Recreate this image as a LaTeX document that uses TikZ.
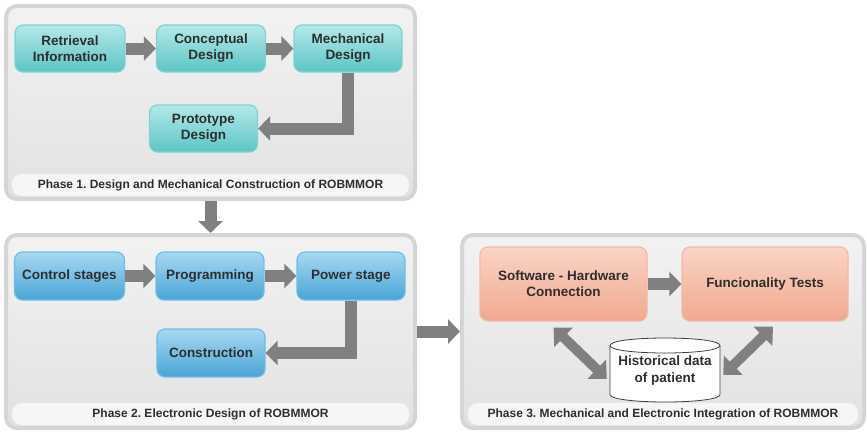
\documentclass[tikz,border=0pt]{standalone}
\usepackage{fontspec}
\setmainfont{Liberation Sans}
\usetikzlibrary{arrows.meta}
\frenchspacing

\definecolor{panelrim}{HTML}{D5D5D5}
\definecolor{panelTop}{HTML}{F2F2F2}
\definecolor{panelBot}{HTML}{E2E2E2}
\definecolor{txt}{HTML}{2E2E2E}
\definecolor{arrowgray}{HTML}{808080}
\definecolor{tealRim}{HTML}{7FD3D3}
\definecolor{tealTop}{HTML}{B4E8E8}
\definecolor{tealBot}{HTML}{5CC5C5}
\definecolor{blueRim}{HTML}{6FBDE6}
\definecolor{blueTop}{HTML}{A8D8F1}
\definecolor{blueBot}{HTML}{48A5D6}
\definecolor{salmonRim}{HTML}{F4B8A2}
\definecolor{salmonTop}{HTML}{FAD4C6}
\definecolor{salmonBot}{HTML}{F1A88E}

\begin{document}
\begin{tikzpicture}[x=1pt,y=-1pt,
  panel/.style={draw=panelrim, line width=4pt, rounded corners=11pt,
    top color=panelTop, bottom color=panelBot, inner sep=0pt},
  band/.style={fill=white, fill opacity=0.7, rounded corners=10pt},
  caption/.style={font=\bfseries\fontsize{12}{14}\selectfont, text=txt},
  box/.style={rounded corners=8pt, line width=1.2pt, align=center,
    font=\bfseries\fontsize{13.5}{16}\selectfont, text=txt, inner sep=0pt},
  tealbox/.style={box, draw=tealRim, top color=tealTop, bottom color=tealBot},
  bluebox/.style={box, draw=blueRim, top color=blueTop, bottom color=blueBot},
  salmonbox/.style={box, draw=salmonRim, top color=salmonTop, bottom color=salmonBot},
  flow/.style={draw=arrowgray, line width=12pt, line join=miter,
    -{Triangle[length=12pt,width=24pt]}},
  dual/.style={draw=arrowgray, line width=10pt,
    {Triangle[length=14pt,width=26pt]}-{Triangle[length=14pt,width=26pt]}},
  dbtext/.style={align=center, font=\bfseries\fontsize{13.5}{17}\selectfont, text=txt,
    minimum width=110pt, minimum height=64pt, inner sep=0pt}
]
\useasboundingbox (0,0) rectangle (867,431);

% ---- panels ----
\node[panel, minimum width=409pt, minimum height=193pt] (ph1) at (210.5,102.5) {};
\node[panel, minimum width=409pt, minimum height=193pt] (ph2) at (210.5,331.5) {};
\node[panel, minimum width=402pt, minimum height=193pt] (ph3) at (663,331.5) {};

\fill[band] (12,174) rectangle (409,196);
\fill[band] (12,403) rectangle (409,425);
\fill[band] (468,403) rectangle (858,425);

\node[caption] (cap1) at (210.5,185) {Phase 1. Design and Mechanical Construction of ROBMMOR};
\node[caption] (cap2) at (210.5,414) {Phase 2. Electronic Design of ROBMMOR};
\node[caption] (cap3) at (663,414) {Phase 3. Mechanical and Electronic Integration of ROBMMOR};

% ---- phase 1 ----
\node[tealbox, minimum width=110pt, minimum height=47pt] (ret) at (70,48.5) {Retrieval\\Information};
\node[tealbox, minimum width=109pt, minimum height=47pt] (con) at (211,48.5) {Conceptual\\Design};
\node[tealbox, minimum width=108pt, minimum height=47pt] (mec) at (348,48.5) {Mechanical\\Design};
\node[tealbox, minimum width=108pt, minimum height=47pt] (pro) at (203.5,128.5) {Prototype\\Design};

\draw[flow] (ret.east) -- (con.west);
\draw[flow] (con.east) -- (mec.west);
\draw[flow] (mec.south) |- (pro.east);

% ---- phase 2 ----
\node[bluebox, minimum width=110pt, minimum height=48pt] (ctl) at (69.5,276) {Control stages};
\node[bluebox, minimum width=108pt, minimum height=48pt] (prg) at (210,276) {Programming};
\node[bluebox, minimum width=108pt, minimum height=48pt] (pow) at (351,276) {Power stage};
\node[bluebox, minimum width=108pt, minimum height=48pt] (cns) at (211,353) {Construction};

\draw[flow] (ctl.east) -- (prg.west);
\draw[flow] (prg.east) -- (pow.west);
\draw[flow] (pow.south) |- (cns.east);

% ---- phase 3 ----
\node[salmonbox, minimum width=167pt, minimum height=74pt] (sw) at (563.5,284) {Software - Hardware\\Connection};
\node[salmonbox, minimum width=166pt, minimum height=74pt] (ft) at (765,284) {Funcionality Tests};

% database cylinder
\draw[draw=black!75, line width=0.8pt, fill=white]
  (610,345.5) -- (610,394.5) .. controls (610,404.5) and (720,404.5) .. (720,394.5)
  -- (720,345.5) .. controls (720,335.5) and (610,335.5) .. (610,345.5) -- cycle;
\draw[draw=black!75, line width=0.8pt]
  (610,345.5) .. controls (610,355.5) and (720,355.5) .. (720,345.5);
\node[dbtext] (db) at (665,371) {Historical data\\of patient};

\draw[flow] (sw.east) -- (ft.west);
\draw[dual] ([shift={(-10,6)}]sw.south) -- ([shift={(-3,8)}]db.west);
\draw[dual] ([shift={(8,5)}]ft.south) -- ([shift={(3,4)}]db.east);

% ---- between phases ----
\draw[flow] (ph1.south) -- (ph2.north);
\draw[flow] (ph2.east) -- (ph2.east -| ph3.west);

\end{tikzpicture}
\end{document}
